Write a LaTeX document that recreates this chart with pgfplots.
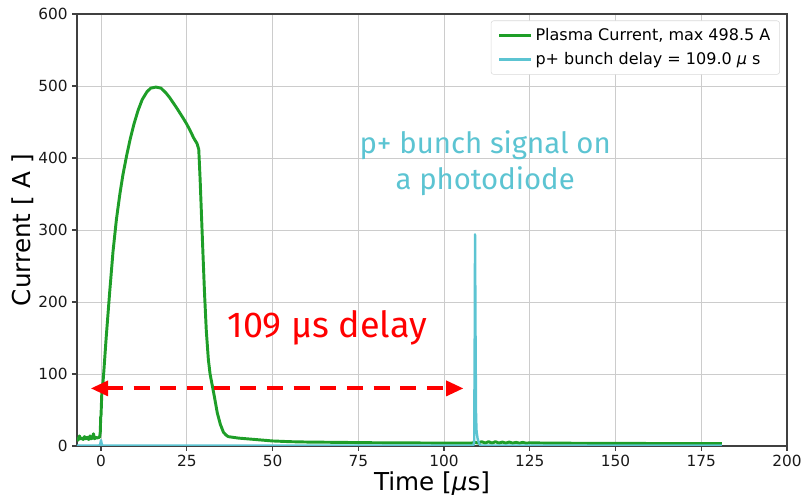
\documentclass[border=0pt]{standalone}
\usepackage{pgfplots}
\pgfplotsset{compat=1.18}
\usepackage{fontspec}
\setmainfont{DejaVu Sans}
\newfontfamily\annfont{Fira Sans}
\usetikzlibrary{arrows.meta}
\definecolor{pgreen}{RGB}{30,158,40}
\definecolor{pcyan}{RGB}{92,196,210}
\begin{document}
\begin{tikzpicture}
\begin{axis}[
  at={(0,0)}, anchor=south west,
  scale only axis, width=532.5pt, height=324pt,
  xmin=-7, xmax=200, ymin=0, ymax=600,
  xtick={0,25,...,200}, ytick={0,100,...,600},
  grid=major, grid style={gray!40, line width=0.6pt},
  axis line style={black!75, line width=0.8pt},
  tick align=outside, major tick length=3.5pt,
  tick style={black!75, line width=0.8pt},
  xtick pos=bottom, ytick pos=left,
  /pgf/number format/assume math mode=true,
  ticklabel style={font=\fontsize{11.5}{13}\selectfont, text=black!90},
  xlabel={Time [{\itshape μ}s]}, ylabel={Current [ A ]},
  label style={font=\fontsize{18.5}{20}\selectfont},
  xlabel style={yshift=3pt}, ylabel style={yshift=-3.5pt},
  legend cell align=left,
  legend style={at={(0.99,0.985)}, anchor=north east, draw=gray!30, rounded corners=2pt,
    font=\fontsize{12}{14}\selectfont, row sep=3pt, inner xsep=5pt, inner ysep=4pt},
  legend image code/.code={\draw[#1] (0cm,0cm) -- (0.85cm,0cm);},
]
\addplot[pgreen, line width=2.2pt, line join=round] coordinates {
(-7,12) (-6.7,8) (-6.3,14) (-6,10) (-5.6,11) (-5.2,9) (-4.8,13) (-4.4,10) (-4,12) (-3.6,9) (-3.2,14) (-2.9,10) (-2.5,11) (-2.2,17) (-1.9,10) (-1.5,12) (-1.1,11) (-0.7,12) (-0.4,12) (-0.2,20) (-0.1,40) (0,42) (0.1,55) (0.2,70) (0.4,78) (0.8,102) (1.5,150) (2.5,212) (3.5,270) (4.5,315) (5.5,350) (6.4,377) (7.5,404) (8.5,426) (9.6,447) (10.8,466) (12,481) (13.4,492) (14.5,497) (16,498.5) (17.5,497) (19,490) (20,484) (22,470) (24,455) (25,447) (26,438) (27,428) (28,420) (28.5,412) (28.9,370) (29.3,320) (29.7,270) (30.2,210) (30.7,160) (31.3,120) (31.8,100) (32.4,85) (33,70) (33.9,46) (34.8,30) (35.7,19) (36.5,15) (37.1,13) (40,11) (45,9) (50,7) (55,6) (60,5.5) (70,5) (80,4.5) (90,4.3) (100,4) (108,4) (109,5) (110,4) (111,6) (112,4) (113,6) (114,4) (115,6) (116,4) (117,5.5) (118,4) (119,5.5) (120,4) (121,5) (122,4) (123,5) (124,3.8) (125,4.5) (130,4) (140,3.8) (150,3.6) (160,3.5) (170,3.4) (181,3.3)
};
\addlegendentry{Plasma Current, max 498.5 A}
\addplot[pcyan, line width=1.8pt, line join=round] coordinates {
(-7,0.5) (-1,0.5) (-0.3,1) (0,8) (0.3,1) (0.6,0.5) (50,0.5) (100,0.5) (108.5,0.5) (108.8,5) (108.95,150) (109.05,294) (109.2,150) (109.35,40) (109.5,20) (109.8,10) (110.2,4) (110.6,1) (111,0.5) (181,0.5)
};
\addlegendentry{p+ bunch delay = 109.0 {\itshape μ} s}
\draw[red, line width=3pt, dash pattern=on 12pt off 8pt, {Triangle[length=13pt,width=11pt]}-{Triangle[length=13pt,width=11pt]}] (axis cs:-3,80) -- (axis cs:105.7,80);
\node[red, font=\annfont\fontsize{27}{30}\selectfont] at (axis cs:66,164) {109 µs delay};
\node[pcyan, align=center, font=\annfont\fontsize{22}{27}\selectfont] at (axis cs:112,393) {p+ bunch signal on\\a photodiode};
\end{axis}
\pgfresetboundingbox
\useasboundingbox (-57.75pt,-36.75pt) rectangle (545.25pt,334.5pt);
\end{tikzpicture}
\end{document}
